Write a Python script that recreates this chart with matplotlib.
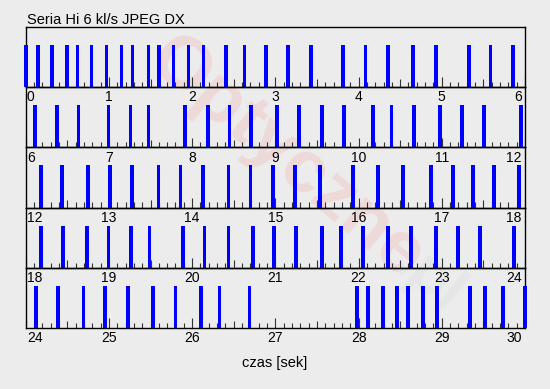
import numpy as np
import matplotlib
matplotlib.use('Agg')
import matplotlib.pyplot as plt

# Shot times in seconds (one list per 6 s strip)
row1 = [0.0, 0.144, 0.312, 0.492, 0.624, 0.792, 0.972, 1.152, 1.284, 1.476,
        1.600, 1.776, 1.956, 2.136, 2.404, 2.628, 2.892, 3.156, 3.432, 3.816,
        4.084, 4.356, 4.656, 4.932, 5.328, 5.584, 5.856]
row2 = [6.108, 6.380, 6.636, 6.996, 7.260, 7.476, 7.916, 8.192, 8.448, 8.708,
        9.020, 9.288, 9.560, 9.824, 10.176, 10.396, 10.664, 10.980, 11.240,
        11.504, 11.952]
row3 = [12.180, 12.440, 12.752, 13.016, 13.280, 13.596, 13.860, 14.132, 14.436,
        14.700, 14.972, 15.240, 15.540, 15.932, 16.232, 16.532, 16.868, 17.132,
        17.376, 17.628, 17.928]
row4 = [18.188, 18.452, 18.740, 18.996, 19.268, 19.488, 19.892, 20.148, 20.436,
        20.732, 20.988, 21.252, 21.560, 21.792, 22.052, 22.356, 22.628, 22.928,
        23.192, 23.456, 23.864]
row5 = [24.128, 24.392, 24.696, 24.956, 25.232, 25.532, 25.800, 26.108, 26.328,
        26.688, 27.980, 28.112, 28.292, 28.460, 28.592, 28.772, 28.940, 29.340,
        29.520, 29.732, 30.000]
rows = [row1, row2, row3, row4, row5]

title = "Seria Hi 6 kl/s JPEG DX"
xlabel = "czas [sek]"
span = 6

plt.rcParams['font.family'] = ['Liberation Sans', 'DejaVu Sans']

W, H = 550, 389
bg = '#ececec'
fig = plt.figure(figsize=(W / 100, H / 100), dpi=100, facecolor=bg)

# faint watermark
fig.text(0.52, 0.59, "Optyczne", rotation=-40, fontsize=54,
         fontweight='bold', color='#efd9d9', ha='center', va='center',
         zorder=-1)
fig.text(0.78, 0.28, ".pl", rotation=-40, fontsize=44,
         fontweight='bold', color='#e6e6e6', ha='center', va='center',
         zorder=-1)

left, right = 25.7, 525.0
top = 26.7
strip = 60.27

for i, times in enumerate(rows):
    t0 = i * span
    t1 = t0 + span
    y_top = top + strip * i
    ax = fig.add_axes([left / W, 1 - (y_top + strip) / H,
                       (right - left) / W, strip / H])
    ax.set_facecolor('none')
    ax.set_xlim(t0, t1)
    ax.set_ylim(0, 1)
    ax.set_xticks([])
    ax.set_yticks([])
    for s in ax.spines.values():
        s.set_linewidth(1.0)
        s.set_color('black')

    ax.bar(times, 0.70, width=0.045, align='center', color='#0000ff',
           edgecolor='none', clip_on=False, zorder=3)

    # ticks pointing up from the baseline
    tr = ax.get_xaxis_transform()
    minor = np.round(np.arange(t0, t1 + 1e-9, 0.1), 3)
    hs = []
    for t in minor:
        if abs(t - round(t)) < 1e-6:
            hs.append(0.16)
        elif abs(t * 2 - round(t * 2)) < 1e-6:
            hs.append(0.125)
        else:
            hs.append(0.085)
    ax.vlines(minor, 0, hs, transform=tr, color='#333333', lw=0.8, zorder=2)

    # labels under the baseline
    for k in range(t0, t1 + 1):
        if k == t0:
            x, ha = k + 0.015, 'left'
        elif k == t1:
            x, ha = k - 0.04, 'right'
        else:
            x, ha = k, 'center'
        ax.text(x, -0.055, str(k), transform=tr, ha=ha, va='top',
                fontsize=10, color='black', clip_on=False)

fig.text(27 / W, 1 - 24 / H, title, fontsize=10.5, ha='left',
         va='baseline')
fig.text(275 / W, 1 - 367 / H, xlabel, fontsize=10.5, ha='center',
         va='baseline')

fig.savefig('out.png', dpi=100, facecolor=bg)
